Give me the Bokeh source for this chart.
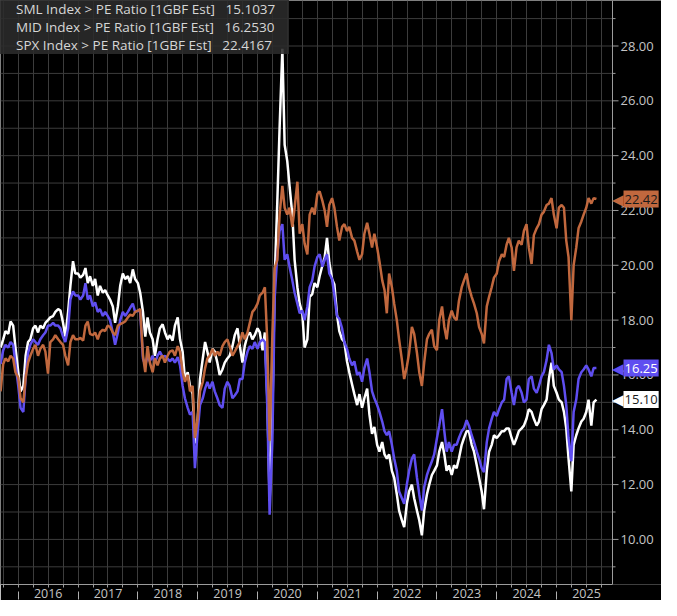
import pandas as pd
from bokeh.plotting import figure
from bokeh.core.properties import value
from bokeh.models import (LinearAxis, FixedTicker, CustomJSTickFormatter, Range1d, Legend,
                          LegendItem, Label, Grid, Span)
from bokeh.embed import file_html
from bokeh.resources import INLINE

# ---------------- data (semi-monthly readings, 15 Sep 2015 .. 1 Sep 2025) ----------------
dates = pd.date_range("2015-09-15", "2025-09-01", freq="SMS")

sml = [
    17.0, 17.3, 17.6, 17.5, 17.95, 17.8, 17.0,
    16.1, 15.4, 15.6, 16.7, 17.2, 17.3, 17.7, 17.8, 17.55, 17.8, 17.7, 17.9, 18.0, 18.1, 18.15, 18.3, 18.4, 18.35, 17.9, 17.4, 18.3, 19.25, 20.15, 19.7,
    19.7, 19.55, 19.65, 19.9, 19.35, 19.6, 19.25, 19.5, 18.9, 19.25, 19.0, 19.1, 18.9, 18.75, 18.5, 17.9, 18.5, 19.25, 19.7, 19.5, 19.6, 19.35, 19.85, 19.5,
    19.35, 19.0, 18.3, 17.4, 18.1, 17.55, 17.3, 16.7, 17.3, 17.7, 17.85, 17.55, 17.3, 17.45, 17.25, 17.8, 18.1, 17.3, 16.85, 15.85, 16.1, 15.6, 15.3, 13.5,
    14.4, 15.85, 16.6, 17.2, 16.85, 16.45, 16.95, 16.85, 16.45, 16.0, 16.2, 16.45, 16.6, 16.7, 17.05, 17.45, 17.7, 17.05, 16.45, 17.05, 17.45, 17.55, 17.3, 17.45,
    17.7, 17.55, 16.9, 17.55, 15.15, 11.4, 14.5, 19.5, 22.3, 25.0, 27.9, 24.4, 23.8, 22.9, 21.85, 20.2, 19.2, 18.6, 18.25, 17.0, 17.3, 18.85, 18.95, 19.35,
    19.2, 19.6, 20.0, 20.3, 21.0, 20.1, 19.5, 19.3, 18.2, 17.6, 17.3, 17.2, 16.5, 16.1, 15.65, 15.3, 14.9, 15.3, 14.8, 15.15, 15.5, 14.55, 13.85, 14.1,
    13.45, 13.2, 13.55, 13.1, 12.95, 13.1, 12.5, 12.25, 11.65, 11.05, 10.7, 10.45, 11.3, 11.75, 12.0, 11.5, 11.05, 10.7, 10.15, 11.05, 11.65, 12.0, 12.35, 12.5,
    12.7, 13.2, 13.55, 13.1, 12.5, 12.7, 12.35, 12.7, 12.6, 12.95, 13.45, 13.7, 13.95, 13.95, 13.45, 13.2, 12.7, 12.25, 11.75, 11.1, 12.5, 13.2, 13.45, 13.8,
    13.7, 13.8, 13.95, 13.95, 14.05, 14.05, 13.7, 13.45, 13.7, 13.95, 14.05, 14.15, 14.4, 14.75, 14.65, 14.4, 14.15, 14.3, 14.75, 14.9, 15.1, 15.85, 16.45, 15.6,
    15.35, 15.1, 15.0, 14.65, 14.05, 12.95, 11.75, 13.45, 13.8, 14.05, 14.3, 14.4, 14.65, 15.1, 14.15, 15.0, 15.1037,
]

mid = [
    16.4, 16.9, 17.1, 17.0, 17.2, 17.1, 16.4,
    15.6, 14.8, 14.65, 15.9, 16.8, 17.1, 17.3, 17.2, 17.1, 17.3, 17.45, 17.55, 17.8, 17.8, 17.9, 17.8, 17.8, 17.7, 17.4, 17.2, 17.7, 18.75, 19.05, 18.9,
    18.9, 18.75, 18.9, 19.35, 18.75, 18.9, 18.5, 18.65, 18.3, 18.4, 18.15, 18.3, 18.15, 18.0, 17.55, 17.1, 17.55, 18.0, 18.3, 18.15, 18.3, 18.45, 18.6, 18.3,
    18.35, 18.3, 16.6, 16.35, 16.7, 16.5, 16.7, 16.45, 16.7, 16.85, 16.65, 16.7, 16.6, 16.5, 16.6, 16.45, 16.65, 16.35, 15.6, 15.15, 14.8, 14.55, 14.65, 12.6,
    13.95, 14.9, 15.15, 15.5, 15.75, 15.5, 15.75, 15.4, 15.15, 14.9, 14.8, 15.5, 15.75, 15.6, 15.15, 15.25, 15.4, 15.85, 15.85, 16.45, 16.85, 17.05, 16.95, 17.2,
    16.95, 17.2, 17.3, 17.2, 14.8, 10.9, 13.6, 18.8, 20.4, 21.25, 21.5, 20.2, 20.4, 19.95, 19.45, 19.0, 18.6, 18.25, 18.35, 18.0, 18.5, 19.2, 19.45, 19.95,
    20.3, 20.4, 19.95, 20.2, 20.4, 19.7, 19.5, 18.9, 18.15, 18.05, 17.7, 17.2, 16.95, 16.6, 16.35, 16.5, 16.0, 16.1, 15.75, 16.25, 16.6, 16.1, 15.4, 15.15,
    14.9, 14.65, 14.3, 13.95, 13.8, 13.95, 13.45, 12.95, 12.5, 11.75, 11.5, 11.3, 12.0, 12.5, 12.95, 13.1, 12.25, 11.65, 11.05, 11.9, 12.35, 12.6, 12.85, 13.1,
    13.7, 14.15, 14.75, 13.95, 13.2, 13.55, 13.2, 13.45, 13.45, 13.7, 13.95, 14.05, 14.35, 14.15, 13.8, 13.55, 13.2, 12.95, 12.6, 12.45, 13.55, 14.05, 14.4, 14.65,
    14.5, 14.75, 15.0, 15.1, 15.85, 15.95, 15.35, 14.9, 15.5, 15.6, 15.35, 15.0, 15.1, 15.85, 15.95, 15.5, 15.35, 15.6, 15.95, 16.1, 16.55, 17.1, 16.8, 16.2,
    16.35, 16.2, 16.1, 15.6, 14.9, 13.7, 12.85, 14.65, 15.1, 15.85, 16.1, 16.2, 16.35, 16.2, 15.95, 16.25, 16.2530,
]

spx = [
    15.4, 16.4, 16.6, 16.5, 16.7, 16.6, 16.1,
    15.9, 15.15, 15.0, 15.9, 16.45, 16.7, 16.95, 17.1, 16.7, 16.95, 17.1, 16.85, 16.05, 17.2, 17.3, 17.45, 17.3, 17.2, 17.1, 16.7, 16.35, 17.2, 17.45, 17.3,
    17.3, 17.35, 17.25, 17.8, 17.95, 17.5, 17.45, 17.55, 17.3, 17.55, 17.65, 17.6, 17.8, 17.75, 17.55, 17.45, 17.8, 17.85, 17.9, 17.95, 18.1, 18.2, 18.15, 18.3,
    18.35, 18.4, 16.7, 16.1, 17.05, 16.45, 16.1, 16.6, 16.35, 16.6, 16.7, 16.45, 16.7, 16.85, 16.9, 16.7, 17.05, 16.85, 16.1, 15.75, 16.0, 15.4, 15.6, 13.7,
    14.4, 15.4, 15.75, 16.25, 16.6, 16.7, 16.95, 16.7, 16.85, 16.7, 17.05, 17.2, 17.3, 17.05, 16.7, 16.85, 17.05, 17.2, 17.55, 17.3, 17.55, 17.9, 18.3, 18.4,
    18.6, 18.9, 19.0, 19.2, 17.2, 13.6, 17.5, 19.9, 20.2, 21.85, 22.9, 22.1, 21.85, 22.1, 21.4, 22.1, 23.05, 21.15, 21.5, 20.8, 20.4, 21.85, 22.1, 21.85,
    22.6, 22.7, 22.35, 22.0, 21.4, 22.2, 22.45, 22.1, 21.4, 20.9, 21.4, 21.5, 21.25, 21.4, 21.0, 20.9, 20.5, 20.2, 20.4, 21.15, 21.55, 21.15, 20.65, 21.15,
    20.65, 20.15, 19.45, 19.1, 18.25, 19.7, 19.2, 18.6, 18.0, 17.3, 16.55, 15.85, 16.3, 16.8, 17.75, 17.5, 16.8, 16.1, 15.6, 16.45, 17.3, 17.5, 17.65, 17.05,
    16.9, 18.0, 18.5, 17.75, 17.3, 18.0, 18.35, 18.1, 18.0, 18.7, 19.2, 19.45, 19.7, 19.2, 18.85, 18.6, 18.25, 17.75, 17.5, 17.15, 18.5, 18.85, 19.2, 19.55,
    19.7, 20.15, 20.4, 20.3, 20.75, 21.0, 20.65, 19.8, 20.65, 20.9, 20.75, 21.25, 21.5, 20.65, 20.05, 21.1, 21.35, 21.5, 21.85, 21.95, 22.2, 22.25, 22.45, 21.85,
    21.35, 22.1, 22.2, 22.1, 20.9, 20.3, 18.0, 20.0, 20.65, 21.35, 21.6, 21.85, 22.1, 22.45, 22.25, 22.45, 22.4167,
]

names = ["SML Index > PE Ratio [1GBF Est]", "MID Index > PE Ratio [1GBF Est]", "SPX Index > PE Ratio [1GBF Est]"]
colors = ["#ffffff", "#5f4ef0", "#c1683e"]
tag_text_colors = ["#1a1a1a", "#ffffff", "#1a1a1a"]
years = list(range(2016, 2026))
y_major = list(range(10, 29, 2))
y_minor = list(range(9, 30, 2))
y_grid = list(range(9, 30))

assert len(dates) == len(sml) == len(mid) == len(spx), (len(dates), len(sml), len(mid), len(spx))


def dec_year(d):
    s = pd.Timestamp(year=d.year, month=1, day=1)
    e = pd.Timestamp(year=d.year + 1, month=1, day=1)
    return d.year + (d - s) / (e - s)


t = [dec_year(d) for d in dates]

FONT = "Open Sans"
AXC = "#9c9c9c"
GRID = "#3c3c3c"
TXT = "#c4c4c4"

X0, XAX, X1 = 2015.703, 2025.935, 2026.754     # frame start, value-axis position, frame end
Y0, Y1 = 8.355, 29.66

p = figure(width=661, height=600, output_backend="svg", toolbar_location=None,
           x_range=Range1d(X0, X1), y_range=Range1d(Y0, Y1),
           x_axis_location=None, y_axis_location=None,
           background_fill_color="black", border_fill_color="black",
           min_border_left=0, min_border_top=0, min_border_right=0, min_border_bottom=0)
p.outline_line_color = None
for g in p.grid:
    g.visible = False

quarters = [y + q / 4 for y in range(2015, 2026) for q in range(4) if X0 < y + q / 4 < XAX]
p.add_layout(Grid(dimension=0, ticker=FixedTicker(ticks=quarters), grid_line_color=GRID))

# horizontal grid lines stop at the value axis
p.segment(x0=[X0] * len(y_grid), x1=[XAX] * len(y_grid), y0=y_grid, y1=y_grid,
          line_color=GRID, line_width=1)

# value axis on the right, drawn inside the frame so the last-value tags can overlap it
p.add_layout(Span(location=XAX, dimension="height", line_color=AXC, line_width=1))
p.ray(x=[XAX] * len(y_major), y=y_major, length=6, length_units="screen", angle=0,
      line_color=AXC, line_width=1)
p.ray(x=[XAX] * len(y_minor), y=y_minor, length=3, length_units="screen", angle=0,
      line_color=AXC, line_width=1)
p.text(x=[XAX] * len(y_major), y=y_major, text=[f"{v:.2f}" for v in y_major], x_offset=8,
       text_baseline="middle", text_align="left", text_color=TXT,
       text_font=value(FONT), text_font_size=value("13px"))

# bottom axis: quarter ticks, year labels centred in each year, separators at year starts
xax = LinearAxis(ticker=FixedTicker(ticks=quarters, minor_ticks=years),
                 formatter=CustomJSTickFormatter(
                     code="const f = tick - Math.floor(tick); return Math.abs(f - 0.5) < 1e-6 ? Math.floor(tick).toString() : '';"))
xax.bounds = (X0, XAX)
xax.axis_line_color = AXC
xax.major_tick_line_color = AXC
xax.major_tick_in = 0
xax.major_tick_out = 3
xax.minor_tick_line_color = "#b0b0b0"
xax.minor_tick_in = -7
xax.minor_tick_out = 15
xax.major_label_standoff = -11
xax.major_label_text_font = FONT
xax.major_label_text_font_size = "12.5px"
xax.major_label_text_color = TXT
p.add_layout(xax, "below")

# series lines (SPX drawn on top)
series = [sml, mid, spx]
for vals, c in zip(series, colors):
    p.line(t, vals, line_color=c, line_width=2.5)

# legend with square swatches
items = []
for name, vals, c in zip(names, series, colors):
    r = p.quad(left=[], right=[], top=[], bottom=[], fill_color=c, line_color=None)
    items.append(LegendItem(label=f"{name}   {vals[-1]:.4f}    ", renderers=[r]))
legend = Legend(items=items, location="top_left")
legend.margin = 0
legend.padding = 5
legend.spacing = 0
legend.glyph_width = 13
legend.glyph_height = 13
legend.label_standoff = 3
legend.label_height = 13
legend.label_text_font = FONT
legend.label_text_font_size = "13.5px"
legend.label_text_color = "#d6d6d6"
legend.background_fill_color = "#2b2b2b"
legend.background_fill_alpha = 0.88
legend.border_line_color = None
p.add_layout(legend)

# last-value tags on the value axis
for vals, c, tc in zip(series, colors, tag_text_colors):
    p.add_layout(Label(x=XAX, y=vals[-1], text="\u25C0", x_offset=-1, text_baseline="middle",
                       text_align="left", text_color=c, text_font_size="15px"))
    p.add_layout(Label(x=XAX, y=vals[-1], text=f"{vals[-1]:.2f}", x_offset=11, text_baseline="middle",
                       text_align="left", text_color=tc, text_font=FONT, text_font_size="13px",
                       background_fill_color=c, padding=(1, 4)))

open("out.html", "w").write(file_html(p, INLINE))
